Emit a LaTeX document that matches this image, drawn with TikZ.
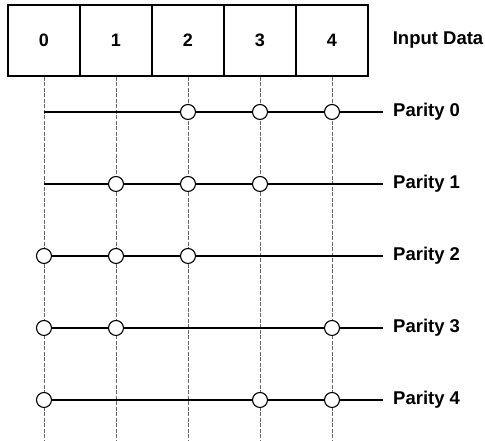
\documentclass[tikz,border=0pt]{standalone}
\usepackage{fontspec}
\setmainfont{Liberation Sans}
\usetikzlibrary{positioning}
\begin{document}
\begin{tikzpicture}[x=72pt, y=72pt,
  databox/.style={draw, line width=1.3pt, minimum width=72pt, minimum height=71pt,
                  inner sep=0pt, font=\fontsize{18}{20}\selectfont\bfseries},
  guide/.style={black!60, line width=0.6pt, dash pattern=on 4pt off 1.5pt},
  bus/.style={line width=1.6pt},
  tap/.style={circle, draw, fill=white, line width=1.1pt, minimum size=15pt, inner sep=0pt},
  lbl/.style={anchor=west, inner sep=0pt, font=\fontsize{18.5}{20}\selectfont\bfseries}]
\useasboundingbox (-0.111,0) rectangle (6.625,6.111);
\def\rowtop{4.556}

% ---- input data cells ----
\foreach \i in {0,...,4}{
  \node[databox] (d\i) at (\i+0.5,5.549) {\i};
}
\node[lbl, right=24pt of d4] (inp) {Input Data};

% ---- column guides ----
\foreach \i in {0,...,4}{
  \coordinate (g\i) at (\i+0.5,0);
  \draw[guide] (d\i.south) -- (g\i);
}

% ---- parity rows ----
\foreach \j/\taps in {0/{2,3,4}, 1/{1,2,3}, 2/{0,1,2}, 3/{0,1,4}, 4/{0,3,4}}{
  \coordinate (s\j) at (0.5,\rowtop-\j);
  \coordinate (e\j) at (5.208,\rowtop-\j);
  \draw[bus] (s\j) -- (e\j);
  \node[lbl, right=10pt of e\j] (p\j) {Parity \j};
  \foreach \i in \taps{
    \node[tap] (c\j\i) at (\i+0.5,\rowtop-\j) {};
  }
}
\end{tikzpicture}
\end{document}
